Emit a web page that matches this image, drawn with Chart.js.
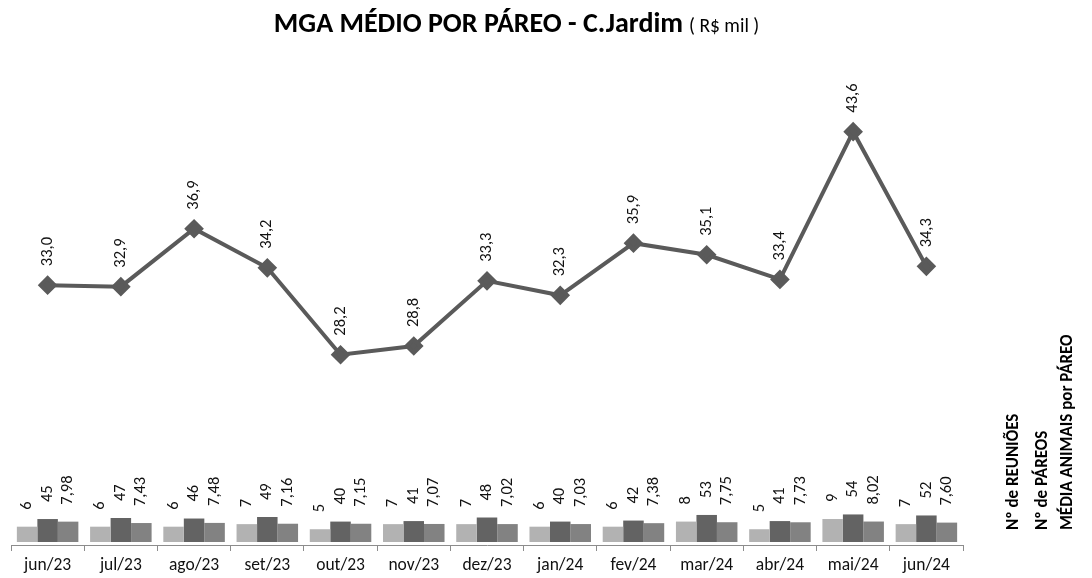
<!DOCTYPE html>
<html>
<head>
<meta charset="utf-8">
<script src="https://cdn.jsdelivr.net/npm/chart.js@4"></script>
<style>
html,body{margin:0;padding:0;background:#fff;}
#wrap{width:1092px;height:578px;position:relative;}
</style>
</head>
<body>
<div id="wrap"><canvas id="c" width="1092" height="578"></canvas></div>
<script>
const categories = ['jun/23','jul/23','ago/23','set/23','out/23','nov/23','dez/23','jan/24','fev/24','mar/24','abr/24','mai/24','jun/24'];
const mgaMedio = [33.0, 32.9, 36.9, 34.2, 28.2, 28.8, 33.3, 32.3, 35.9, 35.1, 33.4, 43.6, 34.3];
const reunioes = [6, 6, 6, 7, 5, 7, 7, 6, 6, 8, 5, 9, 7];
const pareos = [45, 47, 46, 49, 40, 41, 48, 40, 42, 53, 41, 54, 52];
const mediaAnimais = [7.98, 7.43, 7.48, 7.16, 7.15, 7.07, 7.02, 7.03, 7.38, 7.75, 7.73, 8.02, 7.60];
const legendLabels = ['Nº de REUNIÕES', 'Nº de PÁREOS', 'MÉDIA ANIMAIS por PÁREO'];

const FONT = 'Carlito, Lato, sans-serif';
const fmt1 = v => v.toFixed(1).replace('.', ',');
const fmt2 = v => v.toFixed(2).replace('.', ',');

// pick font sizes so text widths match the reference
const mctx = document.createElement('canvas').getContext('2d');
function fitSize(text, target, weight) {
  mctx.font = (weight || '') + ' 100px ' + FONT;
  return Math.round(100 * target / mctx.measureText(text).width * 2) / 2;
}
const SZ_TITLE = fitSize('MGA MÉDIO POR PÁREO - C.Jardim', 408, 'bold');
const SZ_SUB = fitSize('( R$ mil )', 70, '');
const SZ_TICK = fitSize('jun/23', 47, '');
const SZ_LBL = fitSize('33,0', 29, '');
const SZ_LEG = fitSize('MÉDIA ANIMAIS por PÁREO', 197, 'bold');

const labelPlugin = {
  id: 'labels',
  afterDatasetsDraw(chart) {
    const ctx = chart.ctx;
    ctx.save();
    ctx.fillStyle = '#111';
    ctx.font = SZ_LBL + 'px ' + FONT;
    chart.data.datasets.forEach((ds, i) => {
      const meta = chart.getDatasetMeta(i);
      meta.data.forEach((el, j) => {
        const v = ds.data[j];
        const isLine = ds.type === 'line';
        const txt = isLine ? fmt1(v) : ds.fmt(v);
        const off = isLine ? 19 : 17;
        ctx.save();
        ctx.translate(el.x, el.y - off);
        ctx.rotate(-Math.PI / 2);
        ctx.textAlign = 'left';
        ctx.textBaseline = 'middle';
        ctx.fillText(txt, 0, 0);
        ctx.restore();
      });
    });
    ctx.restore();
  }
};

const decoPlugin = {
  id: 'deco',
  afterDraw(chart) {
    const ctx = chart.ctx;
    ctx.save();
    const t1 = 'MGA MÉDIO POR PÁREO - C.Jardim';
    const t2 = '( R$ mil )';
    ctx.font = 'bold ' + SZ_TITLE + 'px ' + FONT;
    const w1 = ctx.measureText(t1).width;
    ctx.font = SZ_SUB + 'px ' + FONT;
    const w2 = ctx.measureText(t2).width;
    const gap = 6;
    const x0 = 516.5 - (w1 + gap + w2) / 2;
    ctx.fillStyle = '#000';
    ctx.textBaseline = 'alphabetic';
    ctx.textAlign = 'left';
    ctx.font = 'bold ' + SZ_TITLE + 'px ' + FONT;
    ctx.fillText(t1, x0, 32);
    ctx.font = SZ_SUB + 'px ' + FONT;
    ctx.fillText(t2, x0 + w1 + gap, 32);
    const xs = [1014, 1043, 1068];
    ctx.font = 'bold ' + SZ_LEG + 'px ' + FONT;
    legendLabels.forEach((s, i) => {
      ctx.save();
      ctx.translate(xs[i], 530);
      ctx.rotate(-Math.PI / 2);
      ctx.textAlign = 'left';
      ctx.textBaseline = 'middle';
      ctx.fillText(s, 0, 0);
      ctx.restore();
    });
    ctx.restore();
  }
};

new Chart(document.getElementById('c'), {
  data: {
    labels: categories,
    datasets: [
      { type: 'line', label: 'MGA', data: mgaMedio, yAxisID: 'yL', borderColor: '#5a5a5a', backgroundColor: '#5a5a5a',
        borderWidth: 4, pointStyle: 'rectRot', pointRadius: 7, pointBackgroundColor: '#5a5a5a', pointBorderColor: '#5a5a5a', tension: 0, order: 0 },
      { type: 'bar', label: legendLabels[0], data: reunioes, yAxisID: 'yB', backgroundColor: '#b2b2b2', fmt: v => String(v), order: 1 },
      { type: 'bar', label: legendLabels[1], data: pareos, yAxisID: 'yP', backgroundColor: '#636363', fmt: v => String(v), order: 1 },
      { type: 'bar', label: legendLabels[2], data: mediaAnimais, yAxisID: 'yB', backgroundColor: '#828282', fmt: fmt2, order: 1 }
    ]
  },
  options: {
    responsive: false,
    animation: false,
    devicePixelRatio: 1,
    layout: { padding: { left: 10, right: 129, top: 39, bottom: 0 } },
    datasets: { bar: { categoryPercentage: 0.84, barPercentage: 1.0 } },
    plugins: { legend: { display: false }, title: { display: false }, tooltip: { enabled: false } },
    scales: {
      x: {
        offset: true,
        grid: { offset: true, drawOnChartArea: false, tickLength: 6, color: '#8c8c8c', lineWidth: 1 },
        border: { display: true, color: '#8c8c8c', width: 1 },
        ticks: { color: '#111', font: { family: FONT, size: SZ_TICK }, padding: 4, maxRotation: 0, autoSkip: false },
        afterFit(s) { s.height = 33; }
      },
      yL: { display: false, position: 'left', min: 15.06, max: 50 },
      yB: { display: false, position: 'left', min: -1.18, max: 197.2 },
      yP: { display: false, position: 'right', min: -5.9, max: 986 }
    }
  },
  plugins: [labelPlugin, decoPlugin]
});
</script>
</body>
</html>
